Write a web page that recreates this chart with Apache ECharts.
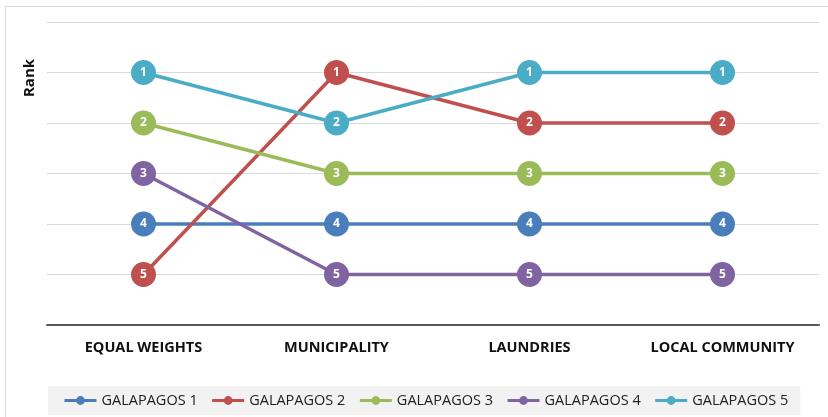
<!DOCTYPE html>
<html><head><meta charset="utf-8">
<script src="https://cdn.jsdelivr.net/npm/echarts@6/dist/echarts.min.js"></script>
<style>html,body{margin:0;padding:0;background:#fff}#c{width:828px;height:417px}</style>
</head><body><div id="c"></div>
<script>
const categories = ['EQUAL WEIGHTS', 'MUNICIPALITY', 'LAUNDRIES', 'LOCAL COMMUNITY'];
const seriesNames = ['GALAPAGOS 1', 'GALAPAGOS 2', 'GALAPAGOS 3', 'GALAPAGOS 4', 'GALAPAGOS 5'];
const galapagos1 = [4, 4, 4, 4];
const galapagos2 = [5, 1, 2, 2];
const galapagos3 = [2, 3, 3, 3];
const galapagos4 = [3, 5, 5, 5];
const galapagos5 = [1, 2, 1, 1];
const colors = ['#4a7ebb', '#c0504d', '#9bbb59', '#8064a2', '#4bacc6'];
const allData = [galapagos1, galapagos2, galapagos3, galapagos4, galapagos5];

const FONT = 'Open Sans';
const chart = echarts.init(document.getElementById('c'));
chart.setOption({
  animation: false,
  backgroundColor: '#fff',
  graphic: [{
    type: 'rect', shape: {x: 5.5, y: 6.5, width: 840, height: 430},
    style: {fill: 'none', stroke: '#d9d9d9', lineWidth: 1}, z: -10
  }, {
    type: 'text', x: 30, y: 78, rotation: Math.PI / 2,
    style: {text: 'Rank', fontFamily: FONT, fontWeight: 'bold', fontSize: 15, fill: '#111', align: 'center', verticalAlign: 'middle'}
  }],
  grid: {left: 47, right: 9, top: 22, bottom: 92},
  legend: {
    left: 48, bottom: 2,
    backgroundColor: '#f2f2f2',
    padding: [7, 12, 7, 15],
    itemGap: 13, itemWidth: 32, itemHeight: 11,
    lineStyle: {width: 3},
    textStyle: {fontFamily: FONT, fontSize: 14.5, color: '#222'},
    data: seriesNames
  },
  xAxis: {
    type: 'category', data: categories, boundaryGap: true,
    position: 'bottom',
    axisLine: {onZero: false, lineStyle: {color: '#595959', width: 2}},
    axisTick: {show: false},
    axisLabel: {fontFamily: FONT, fontWeight: 'bold', fontSize: 14.5, color: '#111', margin: 15}
  },
  yAxis: {
    type: 'value', inverse: true, min: 0, max: 6, interval: 1,
    axisLine: {show: false}, axisTick: {show: false},
    axisLabel: {show: false},
    splitLine: {lineStyle: {color: '#d9d9d9', width: 1}}
  },
  series: allData.map((d, i) => ({
    name: seriesNames[i], type: 'line', data: d,
    color: colors[i],
    symbol: 'circle', symbolSize: 25,
    lineStyle: {width: 3.5, color: colors[i]},
    itemStyle: {color: colors[i]},
    label: {show: true, position: 'inside', color: '#fff', fontFamily: FONT, fontWeight: 'bold', fontSize: 12},
    z: 2 + i
  }))
});
</script></body></html>
